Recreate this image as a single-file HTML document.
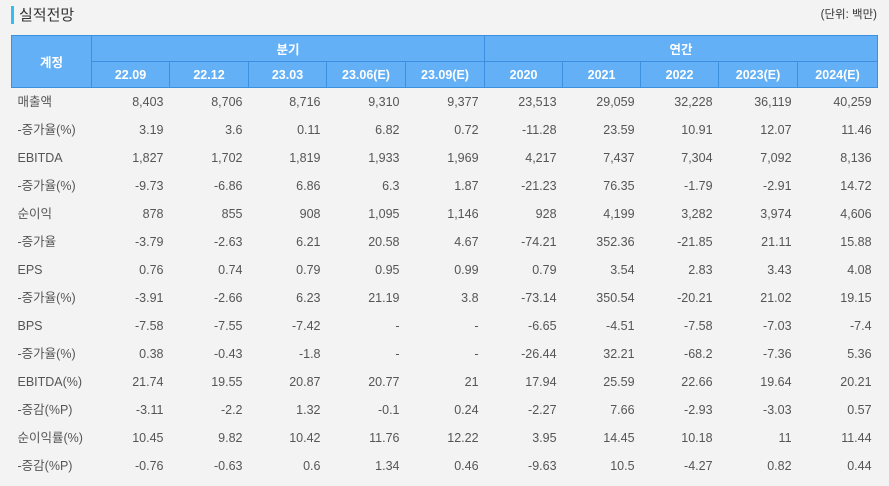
<!DOCTYPE html>
<html><head><meta charset="utf-8"><style>
body{margin:0;width:889px;height:486px;background:#f3f3f3;font-family:"Liberation Sans","Noto Sans CJK KR",sans-serif;overflow:hidden;position:relative;color:#444}
.bar{position:absolute;left:11px;top:6px;width:3px;height:18px;background:#2ec0f0}
.title{position:absolute;left:19px;top:4px;font-size:15px;color:#333}
.unit{position:absolute;right:12px;top:6px;font-size:11.5px;color:#333}
table{position:absolute;left:11px;top:35px;border-collapse:collapse;table-layout:fixed;width:866px}
th{background:#64b0f6;color:#fff;font-weight:bold;font-size:12.5px;border:1px solid #3c90df;height:25px;padding:0}
td{font-size:12.5px;height:28px;line-height:28px;padding:0 6px 0 0;text-align:right;color:#555;white-space:nowrap;overflow:hidden}
td:first-child{text-align:left;padding-left:6px}
</style></head><body>
<div class="bar"></div><div class="title">실적전망</div><div class="unit">(단위: 백만)</div>
<table>
<colgroup><col style="width:80px"><col style="width:78px"><col style="width:79px"><col style="width:78px"><col style="width:79px"><col style="width:79px"><col style="width:78px"><col style="width:78px"><col style="width:78px"><col style="width:79px"><col style="width:80px"></colgroup>
<tr><th rowspan="2">계정</th><th colspan="5">분기</th><th colspan="5">연간</th></tr>
<tr><th>22.09</th><th>22.12</th><th>23.03</th><th>23.06(E)</th><th>23.09(E)</th><th>2020</th><th>2021</th><th>2022</th><th>2023(E)</th><th>2024(E)</th></tr>
<tr><td>매출액</td><td>8,403</td><td>8,706</td><td>8,716</td><td>9,310</td><td>9,377</td><td>23,513</td><td>29,059</td><td>32,228</td><td>36,119</td><td>40,259</td></tr>
<tr><td>-증가율(%)</td><td>3.19</td><td>3.6</td><td>0.11</td><td>6.82</td><td>0.72</td><td>-11.28</td><td>23.59</td><td>10.91</td><td>12.07</td><td>11.46</td></tr>
<tr><td>EBITDA</td><td>1,827</td><td>1,702</td><td>1,819</td><td>1,933</td><td>1,969</td><td>4,217</td><td>7,437</td><td>7,304</td><td>7,092</td><td>8,136</td></tr>
<tr><td>-증가율(%)</td><td>-9.73</td><td>-6.86</td><td>6.86</td><td>6.3</td><td>1.87</td><td>-21.23</td><td>76.35</td><td>-1.79</td><td>-2.91</td><td>14.72</td></tr>
<tr><td>순이익</td><td>878</td><td>855</td><td>908</td><td>1,095</td><td>1,146</td><td>928</td><td>4,199</td><td>3,282</td><td>3,974</td><td>4,606</td></tr>
<tr><td>-증가율</td><td>-3.79</td><td>-2.63</td><td>6.21</td><td>20.58</td><td>4.67</td><td>-74.21</td><td>352.36</td><td>-21.85</td><td>21.11</td><td>15.88</td></tr>
<tr><td>EPS</td><td>0.76</td><td>0.74</td><td>0.79</td><td>0.95</td><td>0.99</td><td>0.79</td><td>3.54</td><td>2.83</td><td>3.43</td><td>4.08</td></tr>
<tr><td>-증가율(%)</td><td>-3.91</td><td>-2.66</td><td>6.23</td><td>21.19</td><td>3.8</td><td>-73.14</td><td>350.54</td><td>-20.21</td><td>21.02</td><td>19.15</td></tr>
<tr><td>BPS</td><td>-7.58</td><td>-7.55</td><td>-7.42</td><td>-</td><td>-</td><td>-6.65</td><td>-4.51</td><td>-7.58</td><td>-7.03</td><td>-7.4</td></tr>
<tr><td>-증가율(%)</td><td>0.38</td><td>-0.43</td><td>-1.8</td><td>-</td><td>-</td><td>-26.44</td><td>32.21</td><td>-68.2</td><td>-7.36</td><td>5.36</td></tr>
<tr><td>EBITDA(%)</td><td>21.74</td><td>19.55</td><td>20.87</td><td>20.77</td><td>21</td><td>17.94</td><td>25.59</td><td>22.66</td><td>19.64</td><td>20.21</td></tr>
<tr><td>-증감(%P)</td><td>-3.11</td><td>-2.2</td><td>1.32</td><td>-0.1</td><td>0.24</td><td>-2.27</td><td>7.66</td><td>-2.93</td><td>-3.03</td><td>0.57</td></tr>
<tr><td>순이익률(%)</td><td>10.45</td><td>9.82</td><td>10.42</td><td>11.76</td><td>12.22</td><td>3.95</td><td>14.45</td><td>10.18</td><td>11</td><td>11.44</td></tr>
<tr><td>-증감(%P)</td><td>-0.76</td><td>-0.63</td><td>0.6</td><td>1.34</td><td>0.46</td><td>-9.63</td><td>10.5</td><td>-4.27</td><td>0.82</td><td>0.44</td></tr>
</table>
</body></html>
